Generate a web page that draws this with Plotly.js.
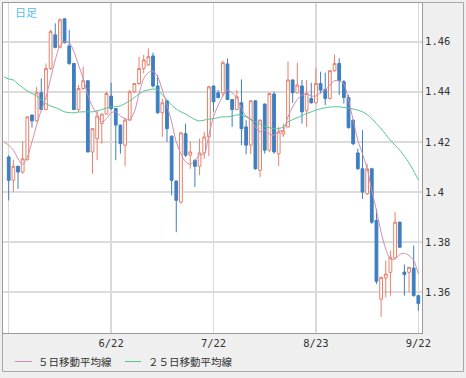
<!DOCTYPE html>
<html><head><meta charset="utf-8">
<script src="https://cdn.plot.ly/plotly-3.0.1.min.js"></script>
<style>html,body{margin:0;padding:0;background:#efefef;} #chart{width:466px;height:378px;}</style>
</head><body><div id="chart"></div>
<script>
const openP = [
1.4140,1.4047,1.4103,1.4080,1.4129,1.4307,1.4284,1.4396,1.4329,1.4493,
1.4627,1.4577,1.4691,1.4583,1.4513,1.4329,1.4413,1.4444,1.4160,1.4213,
1.4273,1.4311,1.4383,1.4333,1.4267,1.4187,1.4287,1.4400,1.4433,1.4493,
1.4507,1.4543,1.4423,1.4316,1.4364,1.4223,1.4044,1.3960,1.4233,1.4147,
1.4127,1.4103,1.4156,1.4220,1.4423,1.4396,1.4396,1.4511,1.4369,1.4329,
1.4356,1.4260,1.4187,1.4364,1.4087,1.4351,1.4167,1.4391,1.4153,1.4231,
1.4260,1.4447,1.4396,1.4423,1.4324,1.4373,1.4356,1.4433,1.4409,1.4373,
1.4484,1.4513,1.4440,1.4377,1.4287,1.4156,1.4093,1.3993,1.4093,1.3887,
1.3573,1.3657,1.3680,1.3737,1.3880,1.3681,1.3680,1.3697,1.3587];
const closeP = [
1.4047,1.4103,1.4080,1.4133,1.4300,1.4284,1.4396,1.4329,1.4493,1.4640,
1.4577,1.4687,1.4596,1.4513,1.4329,1.4413,1.4444,1.4160,1.4253,1.4303,
1.4311,1.4393,1.4333,1.4267,1.4193,1.4287,1.4400,1.4433,1.4493,1.4527,
1.4540,1.4423,1.4316,1.4356,1.4253,1.4047,1.3967,1.4236,1.4147,1.4160,
1.4103,1.4156,1.4220,1.4420,1.4360,1.4377,1.4516,1.4369,1.4329,1.4380,
1.4253,1.4187,1.4364,1.4093,1.4287,1.4167,1.4393,1.4160,1.4240,1.4244,
1.4447,1.4396,1.4427,1.4320,1.4393,1.4356,1.4433,1.4407,1.4373,1.4484,
1.4513,1.4444,1.4377,1.4257,1.4193,1.4093,1.4000,1.4093,1.3880,1.3644,
1.3660,1.3673,1.3740,1.3880,1.3780,1.3671,1.3700,1.3587,1.3556];
const highP = [
1.4147,1.4129,1.4105,1.4203,1.4303,1.4309,1.4420,1.4453,1.4513,1.4647,
1.4673,1.4693,1.4693,1.4647,1.4515,1.4427,1.4500,1.4447,1.4255,1.4327,
1.4313,1.4400,1.4436,1.4335,1.4269,1.4293,1.4407,1.4435,1.4540,1.4547,
1.4573,1.4556,1.4467,1.4373,1.4366,1.4225,1.4046,1.4240,1.4273,1.4200,
1.4129,1.4213,1.4240,1.4423,1.4425,1.4407,1.4524,1.4533,1.4371,1.4407,
1.4449,1.4287,1.4367,1.4366,1.4289,1.4353,1.4396,1.4400,1.4260,1.4273,
1.4520,1.4449,1.4516,1.4447,1.4447,1.4436,1.4493,1.4480,1.4476,1.4487,
1.4549,1.4533,1.4447,1.4387,1.4289,1.4173,1.4247,1.4113,1.4097,1.3933,
1.3663,1.3727,1.3767,1.3920,1.3882,1.3711,1.3702,1.3787,1.3589];
const lowP = [
1.3967,1.4000,1.4013,1.4073,1.4127,1.4257,1.4280,1.4327,1.4327,1.4487,
1.4573,1.4573,1.4593,1.4507,1.4327,1.4320,1.4407,1.4158,1.4073,1.4127,
1.4193,1.4309,1.4327,1.4127,1.4153,1.4103,1.4285,1.4395,1.4427,1.4473,
1.4503,1.4417,1.4313,1.4220,1.4200,1.3987,1.3840,1.3953,1.4140,1.4093,
1.4020,1.4067,1.4133,1.4143,1.4320,1.4373,1.4380,1.4367,1.4260,1.4327,
1.4187,1.4151,1.4151,1.4089,1.4060,1.4153,1.4160,1.4153,1.4103,1.4220,
1.4257,1.4356,1.4393,1.4273,1.4260,1.4353,1.4353,1.4393,1.4347,1.4369,
1.4480,1.4387,1.4353,1.4253,1.4187,1.4089,1.3973,1.3987,1.3873,1.3633,
1.3503,1.3580,1.3587,1.3733,1.3777,1.3587,1.3600,1.3583,1.3527];
// moving averages, index 0 = the day before the first visible candle
const ma5 = [1.4200,
1.4187,1.4167,1.4133,1.4111,1.4140,1.4200,1.4267,1.4327,1.4377,1.4453,
1.4527,1.4583,1.4600,1.4596,1.4560,1.4507,1.4453,1.4387,1.4340,1.4311,
1.4280,1.4293,1.4316,1.4320,1.4303,1.4293,1.4289,1.4320,1.4393,1.4453,
1.4476,1.4483,1.4460,1.4407,1.4347,1.4280,1.4200,1.4153,1.4120,1.4111,
1.4127,1.4147,1.4153,1.4227,1.4300,1.4347,1.4383,1.4407,1.4396,1.4377,
1.4333,1.4303,1.4293,1.4260,1.4240,1.4247,1.4231,1.4227,1.4244,1.4247,
1.4300,1.4340,1.4369,1.4387,1.4391,1.4383,1.4383,1.4396,1.4407,1.4427,
1.4444,1.4444,1.4431,1.4367,1.4287,1.4207,1.4153,1.4093,1.4007,1.3927,
1.3840,1.3773,1.3733,1.3733,1.3751,1.3756,1.3747,1.3727,1.3673];
const ma25 = [1.4459,
1.4451,1.4447,1.4431,1.4417,1.4403,1.4393,1.4383,1.4369,1.4353,1.4343,
1.4337,1.4329,1.4320,1.4317,1.4316,1.4319,1.4320,1.4320,1.4320,1.4324,
1.4329,1.4335,1.4340,1.4340,1.4344,1.4353,1.4364,1.4377,1.4391,1.4403,
1.4407,1.4411,1.4407,1.4387,1.4369,1.4347,1.4331,1.4320,1.4311,1.4300,
1.4289,1.4284,1.4287,1.4291,1.4293,1.4297,1.4300,1.4300,1.4303,1.4308,
1.4307,1.4300,1.4289,1.4280,1.4271,1.4263,1.4257,1.4253,1.4253,1.4260,
1.4280,1.4289,1.4297,1.4305,1.4313,1.4320,1.4327,1.4332,1.4336,1.4339,
1.4340,1.4340,1.4337,1.4335,1.4331,1.4327,1.4320,1.4309,1.4293,1.4273,
1.4253,1.4229,1.4207,1.4187,1.4167,1.4143,1.4116,1.4084,1.4049];
const tickIdx = [1, 23, 45, 67, 89];
const tickLabels = ['', '6/22', '7/22', '8/23', '9/22'];
const yTickVals = [1.36, 1.38, 1.40, 1.42, 1.44, 1.46];
const yTickLabels = ['1.36', '1.38', '1.4', '1.42', '1.44', '1.46'];
const seriesNames = ['５日移動平均線', '２５日移動平均線'];
const chartLabel = '日足';

const xs = openP.map((_, i) => i + 1);
const maX = ma5.map((_, i) => i);

const tickFont = {family: 'DejaVu Sans Mono', size: 10.5, color: '#333'};
const c5 = '#cf8db0', c25 = '#52c690';

const data = [
  {type: 'candlestick', x: xs, open: openP, high: highP, low: lowP, close: closeP,
   increasing: {line: {color: '#e8806a', width: 1}, fillcolor: '#ffffff'},
   decreasing: {line: {color: '#3d7fc0', width: 1}, fillcolor: '#3d7fc0'},
   whiskerwidth: 0, hoverinfo: 'skip', showlegend: false},
  {type: 'scatter', mode: 'lines', x: maX, y: ma25, line: {color: c25, width: 1, shape: 'spline', smoothing: 0.8}, hoverinfo: 'skip', showlegend: false},
  {type: 'scatter', mode: 'lines', x: maX, y: ma5, line: {color: c5, width: 1, shape: 'spline', smoothing: 0.8}, hoverinfo: 'skip', showlegend: false}
];

// plot area in px: x 3..422, y 3..333
const W = 419, H = 330;
const px = v => (v - 3) / W;
const py = v => (333 - v) / H;

const layout = {
  width: 466, height: 378,
  margin: {l: 3, r: 44, t: 3, b: 45, pad: 0},
  paper_bgcolor: '#efefef', plot_bgcolor: '#ffffff',
  showlegend: false,
  boxgap: 0.15,
  xaxis: {range: [-0.2245, 89.786], tickmode: 'array', tickvals: tickIdx, ticktext: tickLabels,
    showgrid: true, gridcolor: '#d9d9d9', gridwidth: 1.5, showline: true, mirror: true,
    linecolor: '#9a9a9a', linewidth: 1, zeroline: false, ticks: '', tickfont: tickFont,
    rangeslider: {visible: false}, fixedrange: true},
  yaxis: {side: 'right', range: [1.3438, 1.4754], tickmode: 'array', tickvals: yTickVals, ticktext: yTickLabels,
    showgrid: true, gridcolor: '#dcdcdc', gridwidth: 2, showline: true, mirror: true,
    linecolor: '#9a9a9a', linewidth: 1, zeroline: false, ticks: '', tickfont: tickFont, fixedrange: true},
  shapes: [
    {type: 'line', xref: 'paper', yref: 'paper', x0: px(15), x1: px(32), y0: py(361.5), y1: py(361.5), line: {color: c5, width: 1}},
    {type: 'line', xref: 'paper', yref: 'paper', x0: px(125), x1: px(141), y0: py(361.5), y1: py(361.5), line: {color: c25, width: 1}},
    {type: 'rect', xref: 'paper', yref: 'paper', x0: px(2.5), x1: px(463.5), y0: py(371.5), y1: py(2.5), line: {color: '#a8a8a8', width: 1}, fillcolor: 'rgba(0,0,0,0)', layer: 'below'}
  ],
  annotations: [
    {xref: 'paper', yref: 'paper', x: px(13), y: py(11.5), xanchor: 'left', yanchor: 'middle', showarrow: false,
     text: chartLabel, font: {family: 'Noto Sans CJK JP', size: 11, color: '#55bdf0'}},
    {xref: 'paper', yref: 'paper', x: px(36), y: py(361.5), xanchor: 'left', yanchor: 'middle', showarrow: false,
     text: seriesNames[0], font: {family: 'Noto Sans CJK JP', size: 10.5, color: '#333'}},
    {xref: 'paper', yref: 'paper', x: px(146), y: py(361.5), xanchor: 'left', yanchor: 'middle', showarrow: false,
     text: seriesNames[1], font: {family: 'Noto Sans CJK JP', size: 10.5, color: '#333'}}
  ]
};

Plotly.newPlot('chart', data, layout, {staticPlot: true, displayModeBar: false});
</script></body></html>
